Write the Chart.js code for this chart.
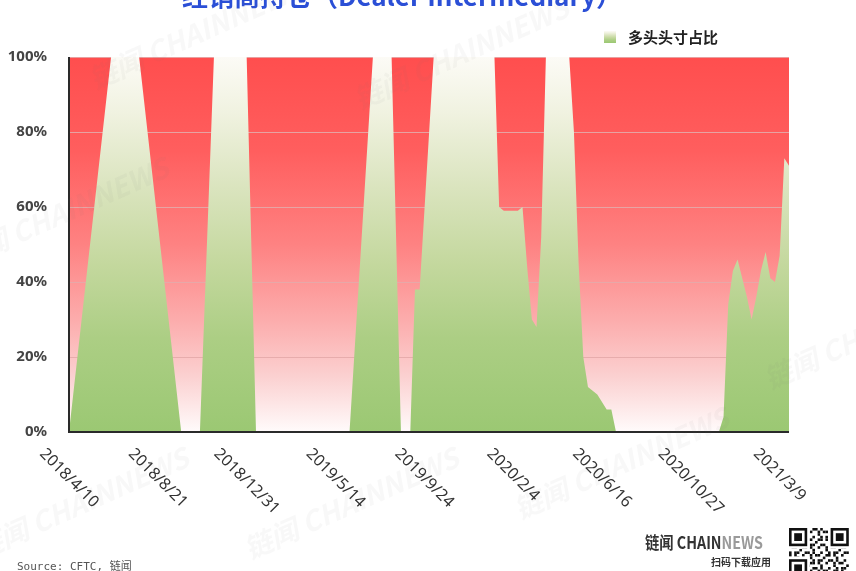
<!DOCTYPE html>
<html>
<head>
<meta charset="utf-8">
<script src="https://cdn.jsdelivr.net/npm/chart.js@4.4.1/dist/chart.umd.min.js"></script>
<style>
  html, body { margin: 0; padding: 0; background: #fff; }
  canvas { display: block; }
</style>
</head>
<body>
<canvas id="chart" width="856" height="571"></canvas>
<script>
// weekly CFTC report dates, first one and the ticks shown on the axis
const firstDate = [2018, 4, 10];
const weekCount = 155;
const tickStep = 19;
const tickLabels = ['2018/4/10', '2018/8/21', '2018/12/31', '2019/5/14', '2019/9/24',
  '2020/2/4', '2020/6/16', '2020/10/27', '2021/3/9'];

// 多头头寸占比 (%), null = gap bridged by a straight line
const n = null;
const longShare = [
  0, n, n, n, n, n, n, n, n, 100,
  100, 100, 100, 100, 100, 100, n, n, n, n,
  n, n, n, n, 0, 0, 0, 0, 0, n,
  n, 100, 100, 100, 100, 100, 100, 100, 100, n,
  0, 0, 0, 0, 0, 0, 0, 0, 0, 0,
  0, 0, 0, 0, 0, 0, 0, 0, 0, 0,
  0, n, n, n, n, 100, 100, 100, 100, 100,
  n, 0, 0, 0, 38, 38, n, n, 100, 100,
  100, 100, 100, 100, 100, 100, 100, 100, 100, 100,
  100, 100, 60, 59, 59, 59, 59, 60, 44, 30,
  28, 52, 100, 100, 100, 100, 100, 100, 80, 45,
  20, 12, 11, 10, 8, 6, 6, 0, 0, 0,
  0, 0, 0, 0, 0, 0, 0, 0, 0, 0,
  0, 0, 0, 0, 0, 0, 0, 0, 0, 0,
  4, 34, 43, 46, 41, 36, 30, 36, 43, 48,
  41, 40, 47, 73, 71
];

const categories = [];
for (let i = 0; i < weekCount; i++) {
  const d = new Date(Date.UTC(firstDate[0], firstDate[1] - 1, firstDate[2]) + i * 7 * 864e5);
  categories.push(d.getUTCFullYear() + '/' + (d.getUTCMonth() + 1) + '/' + d.getUTCDate());
}
tickLabels.forEach((t, k) => { categories[k * tickStep] = t; });

function greenFill(ctx, top, bottom) {
  const g = ctx.createLinearGradient(0, top, 0, bottom);
  g.addColorStop(0, 'rgb(252,251,246)');
  g.addColorStop(0.15, 'rgb(240,242,224)');
  g.addColorStop(0.35, 'rgb(218,228,190)');
  g.addColorStop(0.55, 'rgb(196,216,158)');
  g.addColorStop(0.75, 'rgb(172,206,132)');
  g.addColorStop(1, 'rgb(155,200,115)');
  return g;
}

const decor = {
  id: 'decor',
  beforeDraw(chart) {
    const { ctx, chartArea: a } = chart;
    const g = ctx.createLinearGradient(0, a.top, 0, a.bottom);
    g.addColorStop(0, 'rgb(255,78,78)');
    g.addColorStop(0.25, 'rgb(255,94,94)');
    g.addColorStop(0.5, 'rgb(254,130,130)');
    g.addColorStop(0.7, 'rgb(252,172,172)');
    g.addColorStop(0.85, 'rgb(251,208,208)');
    g.addColorStop(1, 'rgb(255,251,251)');
    ctx.save();
    ctx.fillStyle = g;
    ctx.fillRect(a.left, a.top, a.right - a.left, a.bottom - a.top);
    ctx.restore();
  },
  afterDatasetsDraw(chart) {
    const { ctx, chartArea: a } = chart;
    ctx.save();
    ctx.strokeStyle = '#2a2a2a';
    ctx.lineWidth = 2;
    ctx.beginPath();
    ctx.moveTo(a.left, a.top);
    ctx.lineTo(a.left, a.bottom);
    ctx.lineTo(a.right, a.bottom);
    ctx.stroke();
    ctx.restore();
  },
  afterDraw(chart) {
    const { ctx, chartArea: a } = chart;
    const xs = chart.scales.x;
    ctx.save();

    // x tick labels, rotated down-right
    ctx.fillStyle = '#333';
    ctx.font = '16px "Noto Sans", sans-serif';
    tickLabels.forEach((t, k) => {
      const x = xs.getPixelForValue(k * tickStep);
      const w = ctx.measureText(t).width;
      const s = (w + 12) / Math.SQRT2;
      ctx.save();
      ctx.translate(x, a.bottom + 15 + s / 2);
      ctx.rotate(Math.PI / 4);
      ctx.textAlign = 'center';
      ctx.textBaseline = 'middle';
      ctx.fillText(t, 0, 0);
      ctx.restore();
    });

    // title (cut by the top edge)
    ctx.fillStyle = '#2b4fd6';
    ctx.font = 'bold 26px "Noto Sans CJK SC", sans-serif';
    ctx.textAlign = 'center';
    ctx.textBaseline = 'alphabetic';
    ctx.fillText('经销商持仓（Dealer Intermediary）', 402, 6);

    // legend
    const ds = chart.data.datasets[0];
    ctx.fillStyle = greenFill(ctx, 31, 43);
    ctx.fillRect(604, 31, 12, 12);
    ctx.fillStyle = '#222';
    ctx.font = 'bold 15px "Noto Sans CJK SC", sans-serif';
    ctx.textAlign = 'left';
    ctx.textBaseline = 'middle';
    ctx.fillText(ds.label, 628, 37);

    // source
    ctx.fillStyle = '#555';
    ctx.font = '11px "DejaVu Sans Mono", "Noto Sans CJK SC", monospace';
    ctx.textBaseline = 'alphabetic';
    ctx.fillText('Source: CFTC, 链闻', 17, 570);

    // logo, horizontally condensed
    ctx.save();
    ctx.translate(645, 549);
    ctx.scale(0.84, 1);
    ctx.font = 'bold 17px "Noto Sans CJK SC", sans-serif';
    ctx.textAlign = 'left';
    ctx.fillStyle = '#333';
    ctx.fillText('链闻 CHAIN', 0, 0);
    const lw = ctx.measureText('链闻 CHAIN').width;
    ctx.fillStyle = '#9a9a9a';
    ctx.fillText('NEWS', lw, 0);
    ctx.restore();
    ctx.fillStyle = '#333';
    ctx.font = 'bold 10px "Noto Sans CJK SC", sans-serif';
    ctx.textAlign = 'right';
    ctx.fillText('扫码下载应用', 771, 566);

    // qr-like block
    const qx = 789, qy = 528, m = 2.6;
    ctx.fillStyle = '#111';
    for (let i = 0; i < 23; i++) {
      for (let j = 0; j < 18; j++) {
        if ((i * 7 + j * 11 + i * j) % 3 === 0 || (i + 2 * j) % 5 === 0) {
          ctx.fillRect(qx + i * m, qy + j * m, m, m);
        }
      }
    }
    [[0, 0], [16, 0], [0, 12]].forEach(([i, j]) => {
      const px = qx + i * m, py = qy + j * m;
      ctx.fillStyle = '#fff';
      ctx.fillRect(px - m, py - m, 9 * m, 9 * m);
      ctx.fillStyle = '#111';
      ctx.fillRect(px, py, 7 * m, 7 * m);
      ctx.fillStyle = '#fff';
      ctx.fillRect(px + m, py + m, 5 * m, 5 * m);
      ctx.fillStyle = '#111';
      ctx.fillRect(px + 2 * m, py + 2 * m, 3 * m, 3 * m);
    });

    // faint watermarks
    ctx.fillStyle = 'rgba(120,120,120,0.05)';
    ctx.font = 'bold italic 28px "Noto Sans CJK SC", sans-serif';
    ctx.textAlign = 'left';
    [[95, 90], [360, 110], [-40, 270], [250, 560], [520, 520], [-20, 560], [770, 390]].forEach(([x, y]) => {
      ctx.save();
      ctx.translate(x, y);
      ctx.rotate(-0.42);
      ctx.fillText('链闻 CHAINNEWS', 0, 0);
      ctx.restore();
    });
    ctx.restore();
  }
};

new Chart(document.getElementById('chart'), {
  type: 'line',
  data: {
    labels: categories,
    datasets: [{
      label: '多头头寸占比',
      data: longShare,
      fill: 'origin',
      spanGaps: true,
      tension: 0,
      borderWidth: 0,
      pointRadius: 0,
      backgroundColor: (c) => {
        const a = c.chart.chartArea;
        if (!a) return 'rgb(170,205,130)';
        return greenFill(c.chart.ctx, a.top, a.bottom);
      }
    }]
  },
  options: {
    responsive: false,
    animation: false,
    layout: { padding: { left: 8, right: 67, top: 57, bottom: 0 } },
    plugins: { legend: { display: false }, tooltip: { enabled: false }, title: { display: false } },
    scales: {
      x: {
        grid: { display: false },
        border: { display: false },
        ticks: { display: false },
        afterFit(s) { s.height = 139; }
      },
      y: {
        min: 0,
        max: 100,
        ticks: {
          stepSize: 20,
          padding: 22,
          color: '#444',
          font: { family: '"Noto Sans", sans-serif', size: 15, weight: 'bold' },
          callback: (v) => v + '%'
        },
        grid: { color: 'rgba(228,170,170,0.9)', drawTicks: false },
        border: { display: false },
        afterFit(s) { s.width = 61; }
      }
    }
  },
  plugins: [decor]
});
</script>
</body>
</html>
